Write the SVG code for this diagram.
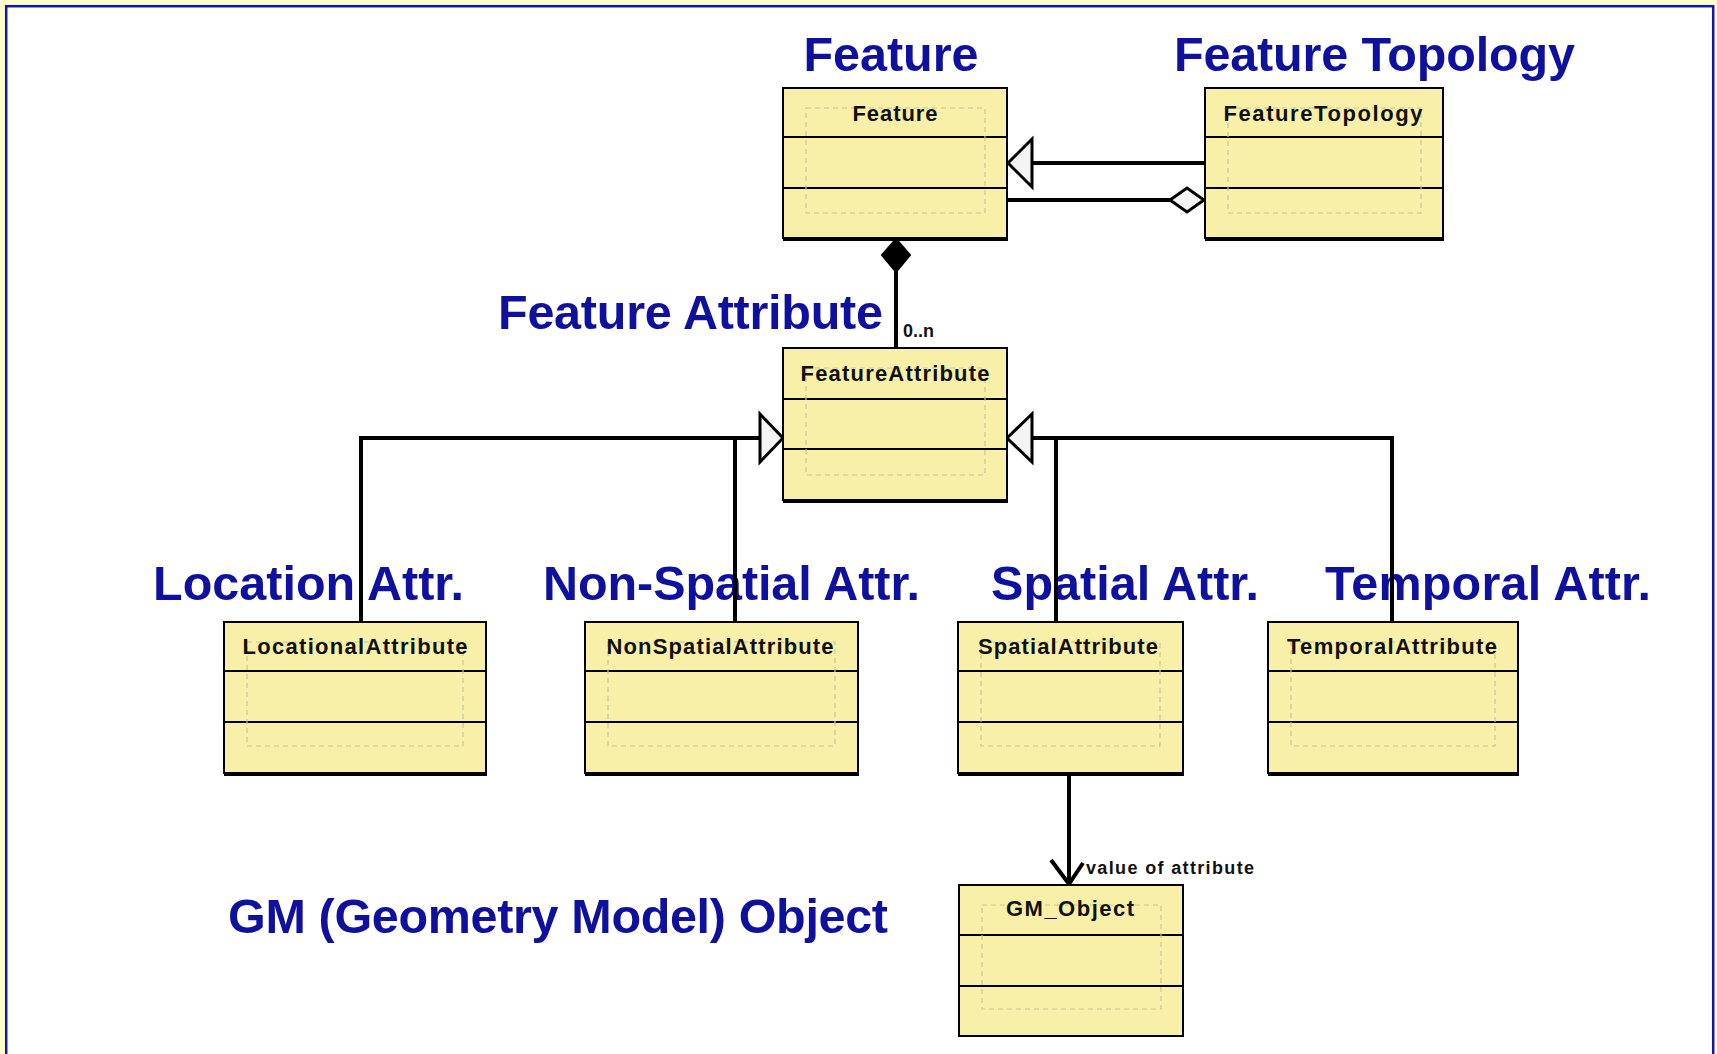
<svg xmlns="http://www.w3.org/2000/svg" width="1717" height="1054" viewBox="0 0 1717 1054">
<style>
.title{font-family:"Liberation Sans",Arial,sans-serif;font-weight:bold;font-size:48.5px;fill:#10109E}
.box{fill:#F8F0A8;stroke:#000;stroke-width:2}
.sep{stroke:#000;stroke-width:2}
.inner{fill:none;stroke:#C8C49A;stroke-width:1.2;stroke-dasharray:5 4}
.shadow{stroke:#000;stroke-width:4}
.name{font-family:"Liberation Sans",Arial,sans-serif;font-weight:bold;font-size:22px;fill:#111;text-anchor:middle}
.conn{stroke:#000;stroke-width:4;fill:none}
.head{fill:#F4F4F4;stroke:#000;stroke-width:3}
.small{font-family:"Liberation Sans",Arial,sans-serif;font-weight:bold;font-size:18px;fill:#111}
</style>
<rect x="0" y="0" width="1717" height="1054" fill="#FFFFCC"/>
<rect x="6.2" y="6.2" width="1707" height="1060" fill="#FFFFFF" stroke="#1414A8" stroke-width="2.5"/>

<g id="titles">
<text class="title" x="891" y="71" text-anchor="middle">Feature</text>
<text class="title" x="1174" y="71" textLength="401">Feature Topology</text>
<text class="title" x="498" y="329" textLength="385">Feature Attribute</text>
<text class="title" x="153" y="600" textLength="311">Location Attr.</text>
<text class="title" x="543" y="600" textLength="377">Non-Spatial Attr.</text>
<text class="title" x="991" y="600" textLength="268">Spatial Attr.</text>
<text class="title" x="1325" y="600" textLength="326">Temporal Attr.</text>
<text class="title" x="228" y="933" textLength="660">GM (Geometry Model) Object</text>
</g>

<g id="connectors">
<line class="conn" x1="1032" y1="163" x2="1205" y2="163"/>
<polygon class="head" points="1008,163 1032,139 1032,187"/>
<line class="conn" x1="1008" y1="200" x2="1170" y2="200"/>
<polygon class="head" points="1170,200 1187,188 1204,200 1187,212"/>
<line class="conn" x1="896" y1="270" x2="896" y2="348"/>
<polygon points="896,239 910,255 896,272 882,255" fill="#000" stroke="#000" stroke-width="2"/>
<text class="small" x="903" y="337">0..n</text>
<polyline class="conn" points="361,622 361,438 760,438"/>
<line class="conn" x1="735" y1="438" x2="735" y2="622"/>
<polygon class="head" points="783,438 760,414 760,462"/>
<polyline class="conn" points="1032,438 1392,438 1392,622"/>
<line class="conn" x1="1056" y1="438" x2="1056" y2="622"/>
<polygon class="head" points="1007,438 1032,414 1032,462"/>
<line class="conn" x1="1069" y1="775" x2="1069" y2="884"/>
<polyline class="conn" points="1051,860 1069,884 1083,863"/>
<text class="small" x="1086" y="874" textLength="168">value of attribute</text>
</g>

<g id="Feature">
<rect class="box" x="783" y="88" width="224" height="150"/>
<line class="sep" x1="783" y1="137" x2="1007" y2="137"/>
<line class="sep" x1="783" y1="188" x2="1007" y2="188"/>
<rect class="inner" x="806" y="108" width="179" height="105"/>
<line class="shadow" x1="783" y1="239" x2="1008" y2="239"/>
<text class="name" x="895" y="121" textLength="85">Feature</text>
</g>

<g id="FeatureTopology">
<rect class="box" x="1205" y="88" width="238" height="150"/>
<line class="sep" x1="1205" y1="137" x2="1443" y2="137"/>
<line class="sep" x1="1205" y1="188" x2="1443" y2="188"/>
<rect class="inner" x="1228" y="108" width="193" height="105"/>
<line class="shadow" x1="1205" y1="239" x2="1444" y2="239"/>
<text class="name" x="1323" y="121" textLength="199">FeatureTopology</text>
</g>

<g id="FeatureAttribute">
<rect class="box" x="783" y="348" width="224" height="152"/>
<line class="sep" x1="783" y1="399" x2="1007" y2="399"/>
<line class="sep" x1="783" y1="449" x2="1007" y2="449"/>
<rect class="inner" x="806" y="368" width="179" height="107"/>
<line class="shadow" x1="783" y1="501" x2="1008" y2="501"/>
<text class="name" x="895" y="381" textLength="189">FeatureAttribute</text>
</g>

<g id="LocationalAttribute">
<rect class="box" x="224" y="622" width="262" height="151"/>
<line class="sep" x1="224" y1="671" x2="486" y2="671"/>
<line class="sep" x1="224" y1="722" x2="486" y2="722"/>
<rect class="inner" x="247" y="642" width="216" height="104"/>
<line class="shadow" x1="224" y1="774" x2="487" y2="774"/>
<text class="name" x="355" y="654" textLength="225">LocationalAttribute</text>
</g>

<g id="NonSpatialAttribute">
<rect class="box" x="585" y="622" width="273" height="151"/>
<line class="sep" x1="585" y1="671" x2="858" y2="671"/>
<line class="sep" x1="585" y1="722" x2="858" y2="722"/>
<rect class="inner" x="608" y="642" width="227" height="104"/>
<line class="shadow" x1="585" y1="774" x2="859" y2="774"/>
<text class="name" x="720" y="654" textLength="227">NonSpatialAttribute</text>
</g>

<g id="SpatialAttribute">
<rect class="box" x="958" y="622" width="225" height="151"/>
<line class="sep" x1="958" y1="671" x2="1183" y2="671"/>
<line class="sep" x1="958" y1="722" x2="1183" y2="722"/>
<rect class="inner" x="981" y="642" width="179" height="104"/>
<line class="shadow" x1="958" y1="774" x2="1184" y2="774"/>
<text class="name" x="1068" y="654" textLength="180">SpatialAttribute</text>
</g>

<g id="TemporalAttribute">
<rect class="box" x="1268" y="622" width="250" height="151"/>
<line class="sep" x1="1268" y1="671" x2="1518" y2="671"/>
<line class="sep" x1="1268" y1="722" x2="1518" y2="722"/>
<rect class="inner" x="1291" y="642" width="204" height="104"/>
<line class="shadow" x1="1268" y1="774" x2="1519" y2="774"/>
<text class="name" x="1392" y="654" textLength="210">TemporalAttribute</text>
</g>

<g id="GM_Object">
<rect class="box" x="959" y="885" width="224" height="151"/>
<line class="sep" x1="959" y1="935" x2="1183" y2="935"/>
<line class="sep" x1="959" y1="986" x2="1183" y2="986"/>
<rect class="inner" x="982" y="905" width="179" height="104"/>
<text class="name" x="1070" y="916" textLength="128">GM_Object</text>
</g>
</svg>
